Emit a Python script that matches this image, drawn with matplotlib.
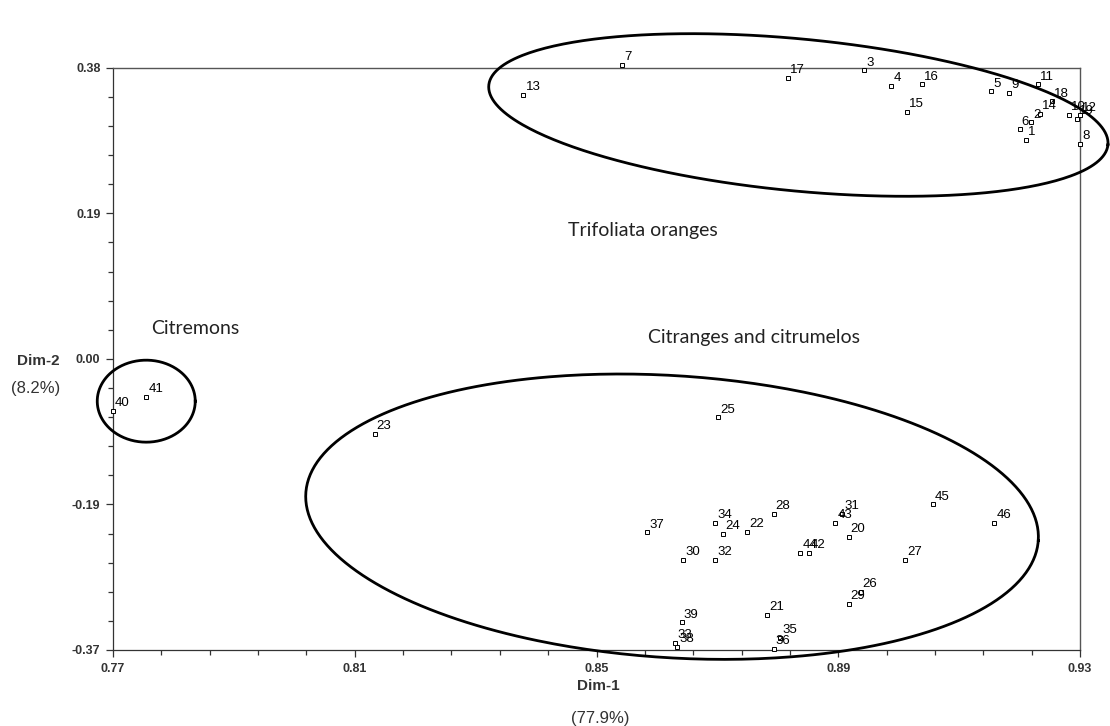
import numpy as np
import matplotlib
matplotlib.use("Agg")
import matplotlib.pyplot as plt
from matplotlib.ticker import AutoMinorLocator

# accession numbers and their coordinates on the first two dimensions
ids = list(range(1, 47))
dim1 = [0.9211, 0.9219, 0.8943, 0.8988, 0.9153, 0.9200, 0.8543, 0.9300, 0.9183, 0.9281,
        0.9231, 0.9300, 0.8379, 0.9234, 0.9014, 0.9039, 0.8817, 0.9253, 0.9295, 0.8917,
        0.8782, 0.8749, 0.8133, 0.8710, 0.8701, 0.8937, 0.9010, 0.8793, 0.8917, 0.8643,
        0.8907, 0.8696, 0.8630, 0.8696, 0.8804, 0.8793, 0.8584, 0.8633, 0.8641, 0.7700,
        0.7755, 0.8851, 0.8895, 0.8837, 0.9056, 0.9158]
dim2 = [0.283, 0.305, 0.372, 0.352, 0.345, 0.296, 0.379, 0.277, 0.343, 0.315,
        0.354, 0.314, 0.340, 0.316, 0.319, 0.354, 0.362, 0.332, 0.310, -0.229,
        -0.329, -0.222, -0.096, -0.225, -0.075, -0.300, -0.258, -0.199, -0.315, -0.258,
        -0.199, -0.258, -0.365, -0.211, -0.359, -0.373, -0.223, -0.370, -0.339, -0.067,
        -0.048, -0.249, -0.211, -0.249, -0.187, -0.211]

group_names = ["Trifoliata oranges", "Citremons", "Citranges and citrumelos"]
group_text_xy = [(0.8576, 0.166), (0.7836, 0.040), (0.8761, 0.028)]
# ellipses: centre (data), semi-axes (pixels), tilt (degrees)
ell_center = [(0.8834, 0.3146), (0.7755, -0.054), (0.8625, -0.2028)]
ell_axes = [(311, 76), (49, 41), (367, 141)]
ell_tilt = [-5.5, 0.0, -3.7]

xlim = (0.77, 0.93)
ylim = (-0.3745, 0.3755)

W, H = 1110, 726
fig = plt.figure(figsize=(W / 100, H / 100), dpi=100)
ax = fig.add_axes([113 / W, 1 - 650 / H, (1080 - 113) / W, (650 - 67.7) / H])

ax.plot(dim1, dim2, linestyle="none", marker="s", markersize=3,
        markerfacecolor="white", markeredgecolor="black", markeredgewidth=0.7,
        clip_on=False, zorder=3)
for i, x, y in zip(ids, dim1, dim2):
    ax.annotate(str(i), (x, y), xytext=(1.5, 3.5), textcoords="offset points",
                ha="left", va="baseline", fontsize=9.5, family="Liberation Sans",
                color="black", annotation_clip=False)

# ellipses drawn in pixel-like space so the tilt looks right
ppx = (1080 - 113) / (xlim[1] - xlim[0])
ppy = (650 - 67.7) / (ylim[1] - ylim[0])
t = np.linspace(0, 2 * np.pi, 400)
for (cx, cy), (a, b), ang in zip(ell_center, ell_axes, ell_tilt):
    th = np.deg2rad(ang)
    u = a * np.cos(t)
    v = b * np.sin(t)
    px = u * np.cos(th) - v * np.sin(th)
    py = u * np.sin(th) + v * np.cos(th)
    ax.plot(cx + px / ppx, cy + py / ppy, color="black", linewidth=2.0,
            clip_on=False, zorder=4)

for name, (tx, ty) in zip(group_names, group_text_xy):
    ax.text(tx, ty, name, ha="center", va="center", fontsize=14,
            family="Lato", color="#222222")

ax.set_xlim(*xlim)
ax.set_ylim(*ylim)
ax.set_xticks(np.linspace(xlim[0], xlim[1], 5))
ax.set_yticks(np.linspace(ylim[0], ylim[1], 5))
ax.set_xticklabels([f"{v:.2f}" for v in np.linspace(xlim[0], xlim[1], 5)])
ax.set_yticklabels([f"{v:.2f}" for v in np.linspace(ylim[0], ylim[1], 5)])
ax.xaxis.set_minor_locator(AutoMinorLocator(5))
ax.yaxis.set_minor_locator(AutoMinorLocator(5))
ax.tick_params(which="major", length=5, width=0.9, color="#333333", pad=4,
               labelsize=9, labelcolor="#333333")
ax.tick_params(which="minor", length=3.5, width=0.9, color="#333333")
ax.tick_params(axis="y", which="both", right=False)
for lab in ax.get_xticklabels() + ax.get_yticklabels():
    lab.set_fontweight("bold")
    lab.set_family("Liberation Sans")

for side in ["left", "bottom"]:
    ax.spines[side].set_color("#333333")
    ax.spines[side].set_linewidth(0.9)
for side in ["top", "right"]:
    ax.spines[side].set_color("#555555")
    ax.spines[side].set_linewidth(1.0)

fig.text(598 / W, 1 - 686 / H, "Dim-1", ha="center", va="center", fontsize=11,
         fontweight="bold", family="Liberation Sans", color="#333333")
fig.text(600 / W, 1 - 718 / H, "(77.9%)", ha="center", va="center", fontsize=12,
         family="Liberation Sans", color="#333333")
fig.text(38 / W, 1 - 361 / H, "Dim-2", ha="center", va="center", fontsize=11,
         fontweight="bold", family="Liberation Sans", color="#333333")
fig.text(36 / W, 1 - 389 / H, "(8.2%)", ha="center", va="center", fontsize=12,
         family="Liberation Sans", color="#333333")

fig.savefig("out.png", dpi=100)
